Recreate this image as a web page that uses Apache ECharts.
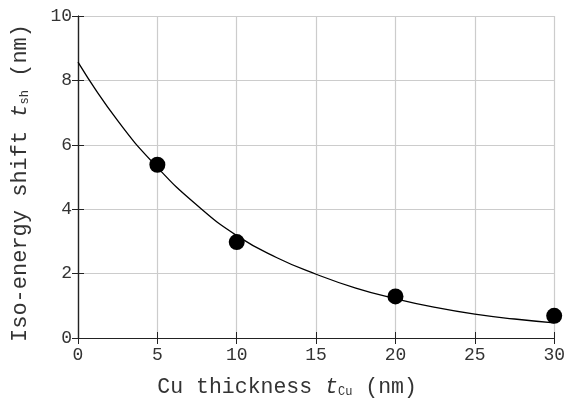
<!DOCTYPE html>
<html><head><meta charset="utf-8">
<script src="https://cdn.jsdelivr.net/npm/echarts@6/dist/echarts.min.js"></script>
<style>html,body{margin:0;padding:0;background:#fff}#c{width:568px;height:403px}</style>
</head><body><div id="c"></div>
<script>
const pointX = [5, 10, 20, 30];
const pointY = [5.38, 2.98, 1.29, 0.69];
const curveX = [0, 2.5, 5, 7.5, 10, 12.5, 15, 17.5, 20, 22.5, 25, 27.5, 30];
const curveY = [8.57, 6.75, 5.3, 4.12, 3.18, 2.5, 1.98, 1.55, 1.22, 0.95, 0.74, 0.59, 0.47];
const xTicks = {min: 0, max: 30, interval: 5};
const yTicks = {min: 0, max: 10, interval: 2};

const font = '"Liberation Mono", "DejaVu Sans Mono", monospace';
const chart = echarts.init(document.getElementById('c'));
const gridColor = '#cccccc';
const axisColor = '#222';
const txt = '#333';
function baseAxis(extra) {
  return Object.assign({
    axisLine: {show: true, lineStyle: {color: axisColor, width: 1.2}},
    axisTick: {show: true, inside: true, length: 6, lineStyle: {color: axisColor}},
    splitLine: {show: false},
    axisLabel: {show: false}
  }, extra);
}
function richTitle(fs) {
  return {
    n: {fontFamily: font, fontSize: fs, color: txt},
    i: {fontFamily: font, fontSize: fs, fontStyle: 'italic', color: txt},
    s: {fontFamily: font, fontSize: 12, color: txt, verticalAlign: 'bottom', padding: [9, 0, 0, 0]}
  };
}
chart.setOption({
  animation: false,
  grid: {left: 78, right: 11, top: 16, bottom: 60},
  xAxis: [
    baseAxis({type: 'value', min: xTicks.min, max: xTicks.max, interval: xTicks.interval, position: 'bottom',
      splitLine: {show: true, lineStyle: {color: gridColor, width: 1.2}},
      axisLabel: {show: true, color: txt, fontFamily: font, fontSize: 18, margin: 8},
      name: '{n|Cu thickness }{i|t}{s|Cu}{n| (nm)}', nameLocation: 'middle', nameGap: 38,
      nameTextStyle: {rich: richTitle(21.5), padding: [0, 58, 0, 0]}
    }),
    baseAxis({type: 'value', min: xTicks.min, max: xTicks.max, interval: xTicks.interval, position: 'top'})
  ],
  yAxis: [
    baseAxis({type: 'value', min: yTicks.min, max: yTicks.max, interval: yTicks.interval, position: 'left',
      splitLine: {show: true, lineStyle: {color: gridColor, width: 1.2}},
      axisLabel: {show: true, color: txt, fontFamily: font, fontSize: 18, margin: 6},
      name: '{n|Iso-energy shift }{i|t}{s|sh}{n| (nm)}', nameLocation: 'middle', nameGap: 47,
      nameTextStyle: {rich: richTitle(22), padding: [0, 12, 0, 0]}
    }),
    baseAxis({type: 'value', min: yTicks.min, max: yTicks.max, interval: yTicks.interval, position: 'right'})
  ],
  series: [
    {type: 'line', data: curveX.map((x, i) => [x, curveY[i]]), smooth: true, showSymbol: false,
      lineStyle: {color: '#000', width: 1.3}, z: 3},
    {type: 'scatter', data: pointX.map((x, i) => [x, pointY[i]]), symbolSize: 16,
      itemStyle: {color: '#000', opacity: 1}, z: 4}
  ]
});
</script></body></html>
